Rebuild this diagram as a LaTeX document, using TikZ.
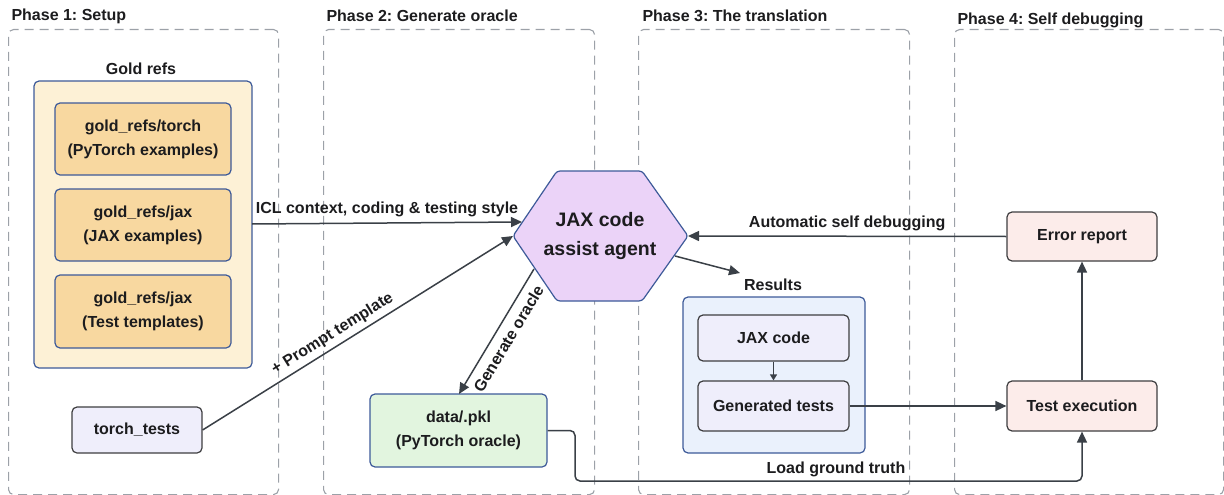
\documentclass[tikz,border=0pt]{standalone}
\usepackage{fontspec}
\setmainfont{Liberation Sans}
\usetikzlibrary{arrows.meta}
\frenchspacing
\definecolor{txt}{HTML}{1C1C1E}
\definecolor{arr}{HTML}{3A4047}
\definecolor{dashc}{HTML}{9CA1A8}
\definecolor{blueb}{HTML}{3D5A99}
\definecolor{goldbg}{HTML}{FDF1D6}
\definecolor{goldin}{HTML}{F8D8A0}
\definecolor{lav}{HTML}{EFEEFB}
\definecolor{agentc}{HTML}{EBD3F8}
\definecolor{greenbg}{HTML}{E2F5DF}
\definecolor{resbg}{HTML}{EAF1FC}
\definecolor{pinkbg}{HTML}{FCECEA}
\tikzset{
  base/.style={font=\bfseries\fontsize{16}{24}\selectfont, text=txt, align=center},
  phasebox/.style={draw=dashc, line width=1.1pt, dash pattern=on 9pt off 6pt, rounded corners=5pt, anchor=north west},
  phasetitle/.style={base, anchor=west},
  container/.style={draw=blueb, line width=1.2pt, rounded corners=5pt},
  goldbox/.style={base, draw=blueb, fill=goldin, line width=1.2pt, rounded corners=5pt, minimum width=176pt, minimum height=72pt},
  darkbox/.style={base, draw=txt!85, line width=1.2pt, rounded corners=5pt},
  conn/.style={draw=arr, line width=1.5pt, -{Triangle[length=11pt,width=10pt]}},
  lbl/.style={base},
}
\begin{document}
\begin{tikzpicture}[x=1pt,y=-1pt]
\useasboundingbox (0,0) rectangle (1224,495);
% phase frames
\node[phasebox, minimum width=270pt, minimum height=465pt] (p1) at (8,29) {};
\node[phasebox, minimum width=271pt, minimum height=465pt] (p2) at (323,29) {};
\node[phasebox, minimum width=271pt, minimum height=465pt] (p3) at (638,29) {};
\node[phasebox, minimum width=269pt, minimum height=465pt] (p4) at (954,29) {};
\node[phasetitle] (t1) at (8,16) {Phase 1: Setup};
\node[phasetitle] (t2) at (323,16) {Phase 2: Generate oracle};
\node[phasetitle] (t3) at (639,16) {Phase 3: The translation};
\node[phasetitle] (t4) at (954,20) {Phase 4: Self debugging};
% gold refs
\node[container, fill=goldbg, minimum width=218pt, minimum height=287pt] (gold) at (143,224.5) {};
\node[lbl] (goldlbl) at (141,69) {Gold refs};
\node[goldbox] (g1) at (143,139) {gold\_refs/torch\\(PyTorch examples)};
\node[goldbox] (g2) at (143,225) {gold\_refs/jax\\(JAX examples)};
\node[goldbox, minimum height=73pt] (g3) at (143,311.5) {gold\_refs/jax\\(Test templates)};
\node[darkbox, fill=lav, minimum width=130pt, minimum height=46pt] (torch) at (137,430) {torch\_tests};
% agent hexagon
\draw[draw=blueb, fill=agentc, line width=1.2pt, rounded corners=3pt]
  (513,236) -- (557,171) -- (642,171) -- (688,236) -- (642,301) -- (557,301) -- cycle;
\node[base, font=\bfseries\fontsize{19.5}{29}\selectfont] (agent) at (600,236) {JAX code\\assist agent};
\coordinate (hexL) at (513,236);
\coordinate (hexR) at (688,236);
\coordinate (hexUL) at (522,222);
\coordinate (hexLL) at (534,269);
\coordinate (hexLR) at (675,256);
\coordinate (dataTop) at (459,394);
\coordinate (resTip) at (740,273);
% data box
\node[base, draw=blueb, fill=greenbg, line width=1.2pt, rounded corners=5pt, minimum width=177pt, minimum height=73pt] (data) at (458.5,430.5) {data/.pkl\\(PyTorch oracle)};
% results
\node[container, fill=resbg, minimum width=182pt, minimum height=156pt] (res) at (774,375) {};
\node[lbl] (reslbl) at (773,285) {Results};
\node[darkbox, fill=lav, minimum width=151pt, minimum height=46pt] (jax) at (773.5,338) {JAX code};
\node[darkbox, fill=lav, minimum width=151pt, minimum height=50pt] (gen) at (773.5,406) {Generated tests};
% phase 4
\node[darkbox, fill=pinkbg, minimum width=150pt, minimum height=49pt] (err) at (1082,236.5) {Error report};
\node[darkbox, fill=pinkbg, minimum width=150pt, minimum height=50pt] (exec) at (1082,406) {Test execution};
% connectors
\coordinate (goldE) at (252,224);
\draw[conn] (goldE) -- (hexUL) node[lbl, midway, above=2pt] {ICL context, coding \& testing style};
\draw[conn] (torch.east) -- (hexL) node[lbl, pos=0.44, sloped, above=1pt] {+ Prompt template};
\draw[conn] (hexLL) -- (dataTop) node[lbl, pos=0.5, sloped, below=4pt] {Generate oracle};
\draw[conn] (hexLR) -- (resTip);
\draw[draw=arr, line width=1.3pt, -{Triangle[length=6pt,width=7pt]}] (jax.south) -- (gen.north);
\draw[conn] (gen.east) -- (exec.west);
\draw[conn] (exec.north) -- (err.south);
\draw[conn] (err.west) -- (hexR) node[lbl, midway, above=1pt] {Automatic self debugging};
\draw[conn, rounded corners=5pt] (data.east) -- (575,430.5) -- (575,481) -- (1082,481) -- (exec.south);
\node[lbl] (lgt) at (836,469) {Load ground truth};
\end{tikzpicture}
\end{document}
